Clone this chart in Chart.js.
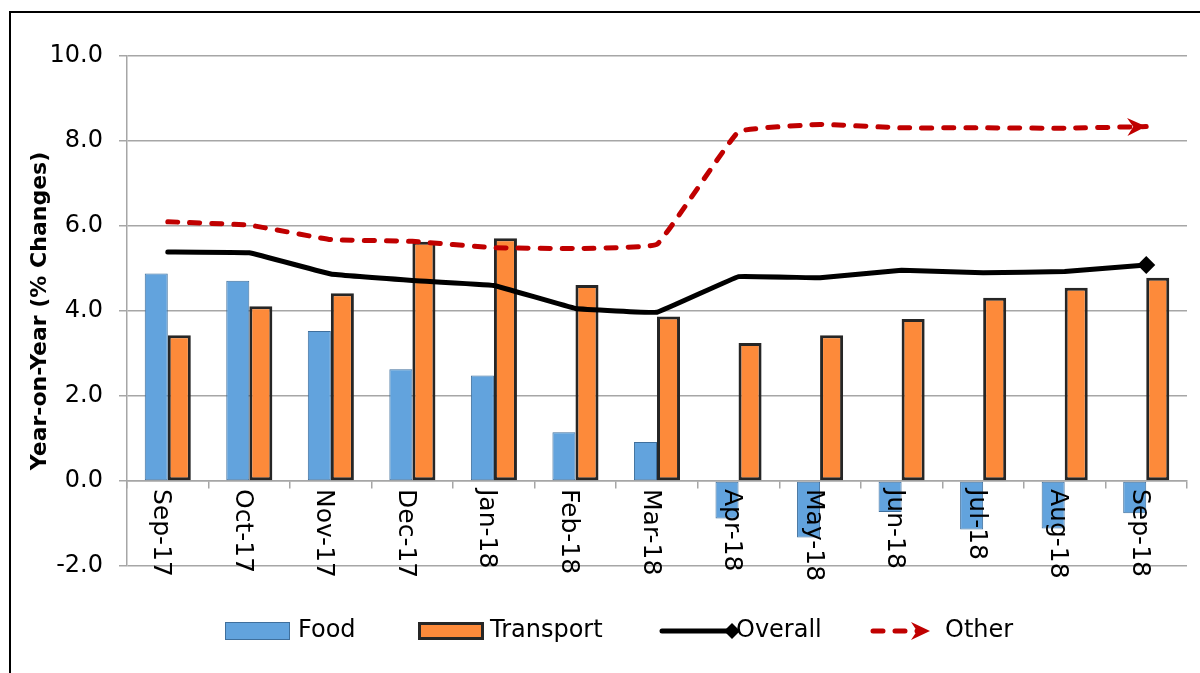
<!DOCTYPE html>
<html>
<head>
<meta charset="utf-8">
<title>Year-on-Year Changes</title>
<script src="https://cdn.jsdelivr.net/npm/chart.js@4.4.1/dist/chart.umd.min.js"></script>
<style>
  body { margin: 0; background: #ffffff; }
  .frame {
    position: absolute; left: 9px; top: 11px; width: 1300px; height: 800px;
    border-top: 2px solid #000; border-left: 2px solid #000;
  }
  .chart-wrap { position: absolute; left: 0; top: 0; width: 1200px; height: 673px; }
</style>
</head>
<body>
<div class="frame"></div>
<div class="chart-wrap">
  <canvas id="cpiChart" width="1200" height="673"></canvas>
</div>
<script>
// chart data
const months = ['Sep-17', 'Oct-17', 'Nov-17', 'Dec-17', 'Jan-18', 'Feb-18', 'Mar-18',
  'Apr-18', 'May-18', 'Jun-18', 'Jul-18', 'Aug-18', 'Sep-18'];
const foodValues = [4.88, 4.71, 3.53, 2.63, 2.48, 1.15, 0.92, -0.88, -1.33, -0.73, -1.14, -1.12, -0.76];
const transportValues = [3.43, 4.11, 4.42, 5.63, 5.71, 4.61, 3.87, 3.25, 3.43, 3.81, 4.31, 4.55, 4.78];
const overallValues = [5.39, 5.37, 4.87, 4.72, 4.60, 4.06, 3.97, 4.81, 4.78, 4.96, 4.90, 4.93, 5.08];
const otherValues = [6.10, 6.02, 5.68, 5.64, 5.49, 5.47, 5.57, 8.22, 8.39, 8.31, 8.31, 8.30, 8.34];
const yTicks = [-2, 0, 2, 4, 6, 8, 10];
const seriesNames = ['Food', 'Transport', 'Overall', 'Other'];

const BLUE = '#62a3dd';
const BLUE_EDGE = '#3f6f9c';
const ORANGE = '#fd8a3a';
const DARK = '#262626';
const RED = '#c00000';
const GRID = '#a6a6a6';
const FONT = 'DejaVu Sans';

Chart.defaults.font.family = FONT;
Chart.defaults.color = '#000';

// month labels read top to bottom, hanging under the zero line
const monthLabels = {
  id: 'monthLabels',
  afterDraw(chart) {
    const { ctx, scales } = chart;
    const y0 = scales.y.getPixelForValue(0);
    ctx.save();
    ctx.font = '25px ' + FONT;
    ctx.fillStyle = '#000';
    ctx.textAlign = 'left';
    ctx.textBaseline = 'middle';
    months.forEach((m, i) => {
      const x = scales.x.getPixelForValue(i) - 7;
      ctx.save();
      ctx.translate(x, y0 + 8);
      ctx.rotate(Math.PI / 2);
      ctx.fillText(m, 0, 0);
      ctx.restore();
    });
    ctx.restore();
  }
};

// arrow head at the end of the "Other" line
const arrowHead = {
  id: 'arrowHead',
  afterDatasetsDraw(chart) {
    const meta = chart.getDatasetMeta(3);
    const pts = meta.data;
    const tip = pts[pts.length - 1];
    const prev = pts[pts.length - 2];
    const ang = Math.atan2(tip.y - prev.y, tip.x - prev.x);
    drawArrow(chart.ctx, tip.x, tip.y, ang, RED);
  }
};

function drawArrow(ctx, x, y, ang, color) {
  ctx.save();
  ctx.translate(x, y);
  ctx.rotate(ang);
  ctx.fillStyle = color;
  ctx.beginPath();
  ctx.moveTo(0, 0);
  ctx.lineTo(-19, -9);
  ctx.lineTo(-13, 0);
  ctx.lineTo(-19, 9);
  ctx.closePath();
  ctx.fill();
  ctx.restore();
}

// legend below the plot
const bottomLegend = {
  id: 'bottomLegend',
  afterDraw(chart) {
    const { ctx } = chart;
    const cy = 631;
    const starts = [225, 418, 660, 870];
    ctx.save();
    ctx.font = '24px ' + FONT;
    ctx.textBaseline = 'middle';
    ctx.textAlign = 'left';

    // Food
    ctx.fillStyle = BLUE;
    ctx.fillRect(starts[0], cy - 9, 65, 18);
    ctx.strokeStyle = BLUE_EDGE;
    ctx.lineWidth = 1;
    ctx.strokeRect(starts[0] + 0.5, cy - 8.5, 64, 17);
    ctx.fillStyle = '#000';
    ctx.fillText(seriesNames[0], starts[0] + 73, cy);

    // Transport
    ctx.fillStyle = ORANGE;
    ctx.fillRect(starts[1], cy - 9, 66, 18);
    ctx.strokeStyle = DARK;
    ctx.lineWidth = 3;
    ctx.strokeRect(starts[1] + 1.5, cy - 7.5, 63, 15);
    ctx.fillStyle = '#000';
    ctx.fillText(seriesNames[1], starts[1] + 72, cy);

    // Overall
    ctx.strokeStyle = '#000';
    ctx.lineWidth = 5;
    ctx.lineCap = 'round';
    ctx.beginPath();
    ctx.moveTo(starts[2] + 2, cy);
    ctx.lineTo(starts[2] + 70, cy);
    ctx.stroke();
    ctx.fillStyle = '#000';
    ctx.beginPath();
    ctx.moveTo(starts[2] + 72, cy - 8);
    ctx.lineTo(starts[2] + 80, cy);
    ctx.lineTo(starts[2] + 72, cy + 8);
    ctx.lineTo(starts[2] + 64, cy);
    ctx.closePath();
    ctx.fill();
    ctx.fillText(seriesNames[2], starts[2] + 76, cy);

    // Other
    ctx.strokeStyle = RED;
    ctx.lineWidth = 5;
    ctx.setLineDash([10, 12]);
    ctx.beginPath();
    ctx.moveTo(starts[3] + 3, cy);
    ctx.lineTo(starts[3] + 50, cy);
    ctx.stroke();
    ctx.setLineDash([]);
    drawArrow(ctx, starts[3] + 60, cy, 0, RED);
    ctx.fillStyle = '#000';
    ctx.fillText(seriesNames[3], starts[3] + 75, cy);
    ctx.restore();
  }
};

const ctx = document.getElementById('cpiChart').getContext('2d');
new Chart(ctx, {
  type: 'bar',
  data: {
    labels: months,
    datasets: [
      {
        label: seriesNames[0],
        data: foodValues,
        backgroundColor: BLUE,
        borderColor: BLUE_EDGE,
        borderWidth: 1,
        borderSkipped: false,
        order: 2
      },
      {
        label: seriesNames[1],
        data: transportValues,
        backgroundColor: ORANGE,
        borderColor: DARK,
        borderWidth: 3,
        borderSkipped: false,
        order: 2
      },
      {
        type: 'line',
        label: seriesNames[2],
        data: overallValues,
        borderColor: '#000',
        backgroundColor: '#000',
        borderWidth: 5,
        borderJoinStyle: 'round',
        borderCapStyle: 'round',
        tension: 0.05,
        pointStyle: 'rectRot',
        pointRadius: overallValues.map((v, i) => (i === overallValues.length - 1 ? 9 : 0)),
        pointBorderWidth: 0,
        order: 1
      },
      {
        type: 'line',
        label: seriesNames[3],
        data: otherValues,
        borderColor: RED,
        borderWidth: 5,
        borderDash: [10, 12],
        borderCapStyle: 'round',
        borderJoinStyle: 'round',
        tension: 0.08,
        pointRadius: 0,
        order: 0
      }
    ]
  },
  options: {
    responsive: false,
    animation: false,
    layout: { padding: { left: 0, top: 56, right: 13, bottom: 107 } },
    datasets: {
      bar: { categoryPercentage: 0.565, barPercentage: 1.0 }
    },
    plugins: {
      legend: { display: false },
      tooltip: { enabled: false }
    },
    scales: {
      x: {
        position: { y: 0 },
        offset: true,
        grid: {
          offset: true,
          drawOnChartArea: false,
          drawTicks: true,
          tickLength: 7,
          color: GRID,
          lineWidth: 1.5
        },
        border: { display: true, color: GRID, width: 1.5 },
        ticks: { display: false }
      },
      y: {
        min: -2,
        max: 10,
        afterFit(scale) { scale.width = 127; },
        afterBuildTicks(scale) { scale.ticks = yTicks.map(v => ({ value: v })); },
        grid: { color: GRID, lineWidth: 1.5, tickLength: 8 },
        border: { display: true, color: GRID, width: 1.5 },
        ticks: {
          padding: 16,
          font: { size: 24 },
          callback: v => v.toFixed(1)
        },
        title: {
          display: true,
          text: 'Year-on-Year (% Changes)',
          font: { size: 22, weight: 'bold' },
          padding: { top: 27, bottom: 0 }
        }
      }
    }
  },
  plugins: [monthLabels, arrowHead, bottomLegend]
});
</script>
</body>
</html>
